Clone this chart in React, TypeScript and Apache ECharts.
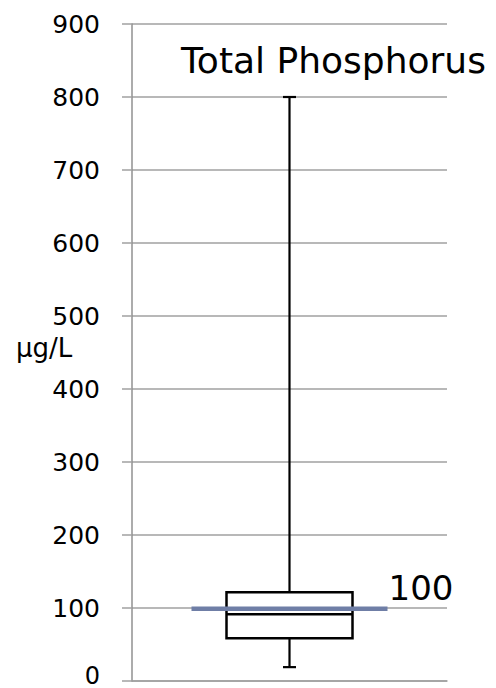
import React, { useEffect, useRef } from "react";
import * as echarts from "echarts";

const categories = ["Total Phosphorus"];
// [categoryIndex, min, q1, median, q3, max]
const boxValues = [[0, 19, 58.5, 91.5, 121.5, 800]];
const guidelineValue = 99;
const guidelineLabel = "100";
const yTicks = { min: 0, max: 900, interval: 100 };
const unitLabel = "μg/L";
const titleText = "Total Phosphorus";

const FONT = "DejaVu Sans";

export default function App() {
  const ref = useRef<HTMLDivElement>(null);
  useEffect(() => {
    if (!ref.current) return;
    const chart = echarts.init(ref.current, undefined, { renderer: "svg" });
    chart.setOption({
      animation: false,
      backgroundColor: "#ffffff",
      title: {
        text: titleText,
        left: 176,
        top: 37,
        textStyle: { fontFamily: FONT, fontSize: 36, fontWeight: "normal", color: "#000" },
      },
      graphic: [
        {
          type: "text",
          left: 16,
          top: 335,
          style: { text: unitLabel, font: `26px '${FONT}'`, fill: "#000" },
        },
      ],
      grid: { left: 132, right: 49, top: 24, bottom: 7, outerBoundsMode: "none", containLabel: false },
      xAxis: {
        type: "category",
        data: categories,
        axisLabel: { show: false },
        axisTick: { show: false },
        axisLine: { show: true, lineStyle: { color: "#a0a0a0", width: 1.5 } },
      },
      yAxis: {
        type: "value",
        min: yTicks.min,
        max: yTicks.max,
        interval: yTicks.interval,
        axisLine: { show: true, lineStyle: { color: "#909090", width: 1.5 } },
        axisTick: { show: true, inside: false, length: 10, lineStyle: { color: "#a0a0a0", width: 1.5 } },
        axisLabel: {
          margin: 32,
          fontFamily: FONT,
          fontSize: 25,
          lineHeight: 14,
          color: "#000",
          formatter: (v: number) => (v === 0 ? "{z|0}" : String(v)),
          rich: { z: { fontFamily: FONT, fontSize: 24, lineHeight: 14, padding: [0, 0, 10, 0] } },
        },
        splitLine: { show: true, lineStyle: { color: "#a0a0a0", width: 1.5 } },
      },
      series: [
        {
          type: "custom",
          data: boxValues,
          encode: { x: 0, y: [1, 2, 3, 4, 5] },
          renderItem: (params: any, api: any) => {
            const cat = api.value(0);
            const cx = api.coord([cat, 0])[0];
            const yMin = api.coord([cat, api.value(1)])[1];
            const yQ1 = api.coord([cat, api.value(2)])[1];
            const yMed = api.coord([cat, api.value(3)])[1];
            const yQ3 = api.coord([cat, api.value(4)])[1];
            const yMax = api.coord([cat, api.value(5)])[1];
            const hw = 63;
            const cap = 6.5;
            const stroke = { stroke: "#000", lineWidth: 2.2, fill: "none" };
            const yG = api.coord([cat, guidelineValue])[1];
            return {
              type: "group",
              children: [
                { type: "line", shape: { x1: cx, y1: yMax, x2: cx, y2: yQ3 }, style: stroke },
                { type: "line", shape: { x1: cx - cap, y1: yMax, x2: cx + cap, y2: yMax }, style: stroke },
                { type: "line", shape: { x1: cx, y1: yQ1, x2: cx, y2: yMin }, style: stroke },
                { type: "line", shape: { x1: cx - cap, y1: yMin, x2: cx + cap, y2: yMin }, style: stroke },
                {
                  type: "rect",
                  shape: { x: cx - hw, y: yQ3, width: hw * 2, height: yQ1 - yQ3 },
                  style: { stroke: "#000", lineWidth: 2.5, fill: "#fff" },
                },
                { type: "line", shape: { x1: cx - hw, y1: yMed, x2: cx + hw, y2: yMed }, style: { stroke: "#000", lineWidth: 2.5 } },
                {
                  type: "line",
                  shape: { x1: cx - 98, y1: yG, x2: cx + 98, y2: yG },
                  style: { stroke: "#6f7ea6", lineWidth: 4.5 },
                },
                {
                  type: "text",
                  x: cx + 99,
                  y: yG - 4,
                  style: {
                    text: guidelineLabel,
                    font: `34px '${FONT}'`,
                    fill: "#000",
                    textAlign: "left",
                    textVerticalAlign: "bottom",
                  },
                },
              ],
            };
          },
        },
      ],
    });
    return () => chart.dispose();
  }, []);
  return (
    <div
      ref={ref}
      style={{ position: "absolute", left: 0, top: 0, width: 496, height: 688 }}
    />
  );
}
